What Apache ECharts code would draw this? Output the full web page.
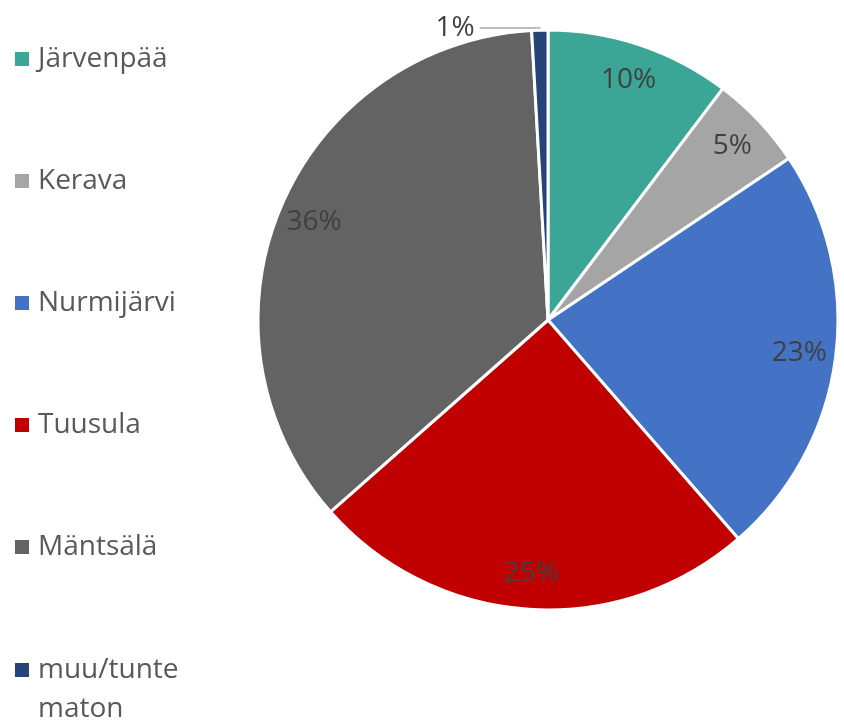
<!DOCTYPE html>
<html>
<head>
<meta charset="utf-8">
<script src="https://cdn.jsdelivr.net/npm/echarts@6/dist/echarts.min.js"></script>
<style>
html,body{margin:0;padding:0;background:#fff;}
#chart{width:844px;height:722px;}
</style>
</head>
<body>
<div id="chart"></div>
<script>
const categories = ['Järvenpää', 'Kerava', 'Nurmijärvi', 'Tuusula', 'Mäntsälä', 'muu/tuntematon'];
const values = [10.3, 5.3, 23.0, 24.9, 35.6, 0.9];
const colors = ['#3BA596', '#A5A5A5', '#4472C4', '#C00000', '#636363', '#264478'];

const FONT = '"Open Sans", sans-serif';
const total = values.reduce((a, b) => a + b, 0);

const mainData = categories.map((name, i) => ({
  name: name,
  value: values[i],
  itemStyle: { color: colors[i] }
}));

const labelData = categories.map((name, i) => {
  const pct = values[i] / total * 100;
  const small = pct < 2;
  return {
    name: name,
    value: values[i],
    itemStyle: { color: 'rgba(0,0,0,0)', borderWidth: 0 },
    label: small ? { position: 'outside' } : { position: 'inside' },
    labelLine: { show: small }
  };
});

const legendCommon = {
  orient: 'vertical',
  left: 15,
  padding: 0,
  itemWidth: 14,
  itemHeight: 14,
  icon: 'rect',
  selectedMode: false,
  itemStyle: { borderWidth: 0 },
  textStyle: { fontFamily: FONT, fontSize: 28, color: '#595959', lineHeight: 39, padding: [0, 0, 0, 4] }
};

const chart = echarts.init(document.getElementById('chart'), null, { renderer: 'canvas' });
chart.setOption({
  animation: false,
  backgroundColor: '#ffffff',
  legend: [
    Object.assign({}, legendCommon, {
      top: 39.5,
      itemGap: 83,
      data: categories.slice(0, 5)
    }),
    Object.assign({}, legendCommon, {
      top: 611.5,
      data: categories.slice(5),
      formatter: function () { return '\nmuu/tunte\nmaton'; }
    })
  ],
  series: [
    {
      type: 'pie',
      center: [548, 320],
      radius: [0, 290],
      startAngle: 90,
      clockwise: true,
      silent: true,
      label: { show: false },
      labelLine: { show: false },
      itemStyle: { borderColor: '#ffffff', borderWidth: 3 },
      data: mainData
    },
    {
      type: 'pie',
      center: [548, 320],
      radius: [210, 291],
      startAngle: 90,
      clockwise: true,
      silent: true,
      label: {
        show: true,
        fontFamily: FONT,
        fontSize: 28,
        color: '#404040',
        formatter: function (p) { return Math.round(p.percent) + '%'; }
      },
      labelLine: {
        length: 1,
        length2: 60,
        smooth: false,
        lineStyle: { color: '#A6A6A6', width: 1.5 }
      },
      data: labelData
    }
  ]
});
</script>
</body>
</html>
